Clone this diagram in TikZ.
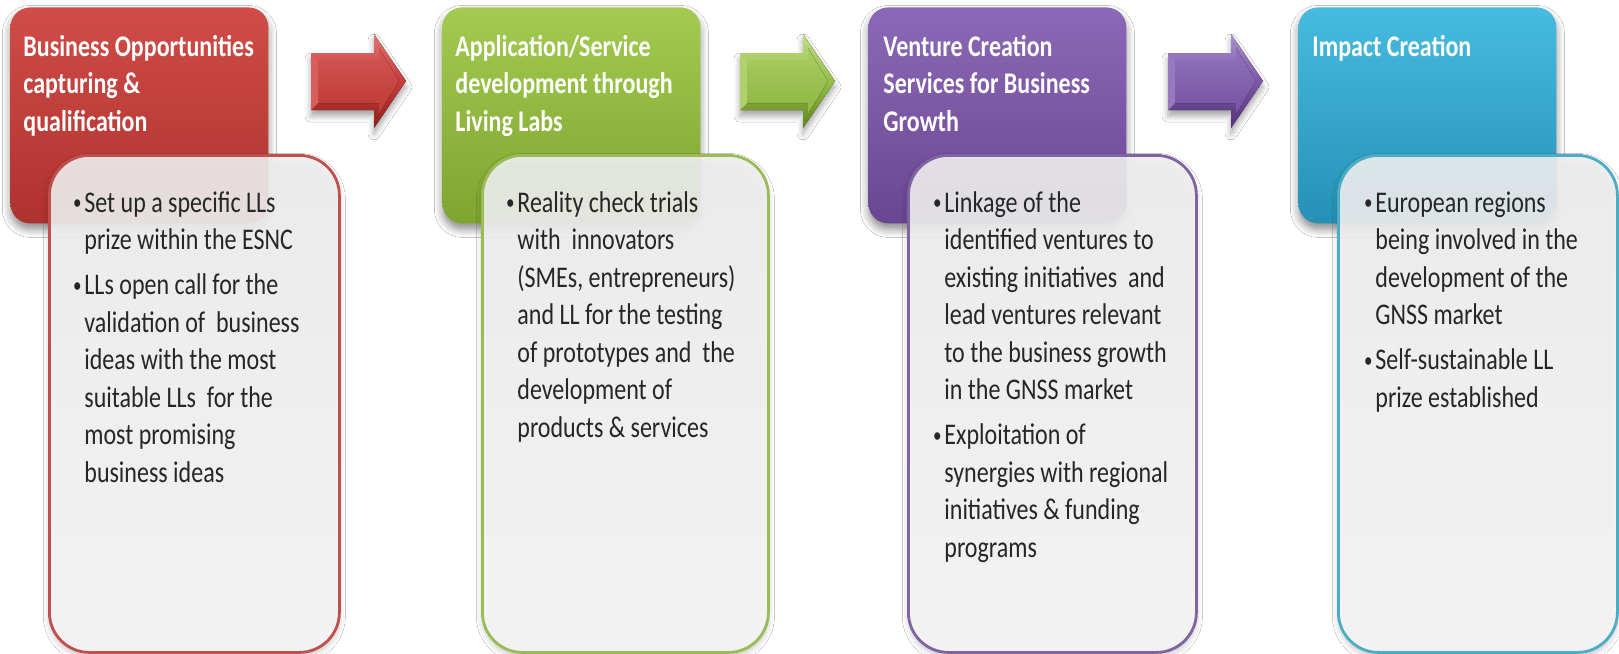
\documentclass[tikz,border=0pt]{standalone}
\usepackage{fontspec}
\setmainfont{Carlito}
\usepackage{graphicx}
\usetikzlibrary{shadows.blur}
\definecolor{rL}{HTML}{D04C48}\definecolor{rD}{HTML}{AE322E}\definecolor{rB}{HTML}{C0504D}
\definecolor{rHi}{HTML}{E27470}\definecolor{rM}{HTML}{C63E3A}\definecolor{rLo}{HTML}{8E201D}
\definecolor{gL}{HTML}{A3CB50}\definecolor{gD}{HTML}{7DA530}\definecolor{gB}{HTML}{9BBB59}
\definecolor{gHi}{HTML}{C2DE88}\definecolor{gM}{HTML}{95BF46}\definecolor{gLo}{HTML}{5F8420}
\definecolor{pL}{HTML}{8C69B6}\definecolor{pD}{HTML}{6A4592}\definecolor{pB}{HTML}{8064A2}
\definecolor{pHi}{HTML}{A890CC}\definecolor{pM}{HTML}{7D58AA}\definecolor{pLo}{HTML}{523378}
\definecolor{cL}{HTML}{47BCE0}\definecolor{cD}{HTML}{2590B5}\definecolor{cB}{HTML}{4BACC6}
\newcommand{\vsc}[1]{\scalebox{1}[1.25]{#1}}
\newcommand{\blt}{\makebox[6pt][l]{\hspace{0.3pt}\raisebox{0.9pt}{\fontsize{8.5}{8.5}\selectfont\textbullet}}}
\newcommand{\blockarrow}[5]{% name, x, highlight, mid, lowlight
  \begin{scope}[shift={(#2,0)}]
    \coordinate (#1) at (0,81);
    \fill[top color=#3, bottom color=#5, middle color=#4,
      blur shadow={shadow xshift=0pt, shadow yshift=-3pt, shadow blur radius=3pt, shadow opacity=35}]
      (0,53) -- (63,53) -- (63,34) -- (95,81) -- (63,128) -- (63,110) -- (0,110) -- cycle;
    \fill[#3!60!#4] (0,53) -- (7,60) -- (7,103) -- (0,110) -- cycle;
    \fill[top color=#3!45!#4, bottom color=#4!85!#5]
      (7,60) -- (68,60) -- (68,48) -- (88,81) -- (68,114) -- (68,103) -- (7,103) -- cycle;
  \end{scope}}
\tikzset{
  hdr/.style={rectangle, rounded corners=10pt, minimum width=129pt, minimum height=108pt,
    anchor=north west, inner sep=0pt,
    blur shadow={shadow xshift=0pt, shadow yshift=-3pt, shadow blur radius=4pt, shadow opacity=45}},
  bodybox/.style={rectangle, rounded corners=20pt, minimum height=248.5pt, anchor=north west,
    inner sep=0pt, line width=1.4pt, top color=black!6, bottom color=black!3, fill opacity=0.9,
    blur shadow={shadow xshift=0pt, shadow yshift=-2pt, shadow blur radius=3pt, shadow opacity=25}},
  ttl/.style={anchor=base west, inner sep=0pt, text=white, font=\fontsize{12}{15}\selectfont\bfseries},
  txt/.style={anchor=base west, inner sep=0pt, text=black!85, font=\fontsize{12}{15}\selectfont},
}
\begin{document}
\begin{tikzpicture}[x=0.5pt,y=-0.5pt]
\useasboundingbox (0,0) rectangle (1619,654);
\fill[white] (0,0) rectangle (1619,654);
% headers
\node[hdr, top color=rL, bottom color=rD] (h1) at (10,7) {};
\node[hdr, top color=gL, bottom color=gD] (h2) at (442,7) {};
\node[hdr, top color=pL, bottom color=pD] (h3) at (868,7) {};
\node[hdr, top color=cL, bottom color=cD] (h4) at (1298,7) {};
% bodies
\node[bodybox, draw=rB, minimum width=145pt] (b1) at (48,154) {};
\node[bodybox, draw=gB, minimum width=143pt] (b2) at (481,154) {};
\node[bodybox, draw=pB, minimum width=144pt] (b3) at (907,154) {};
\node[bodybox, draw=cB, minimum width=139.5pt] (b4) at (1337,154) {};
% arrows
\blockarrow{a1}{311}{rHi}{rM}{rLo}
\blockarrow{a2}{740}{gHi}{gM}{gLo}
\blockarrow{a3}{1168}{pHi}{pM}{pLo}
% titles
\node[ttl] (t1) at (23,56) {\vsc{\begin{tabular}[t]{@{}l@{}}Business Opportunities\\capturing \&\\qualification\end{tabular}}};
\node[ttl] (t2) at (455,56) {\vsc{\begin{tabular}[t]{@{}l@{}}Application/Service\\development through\\Living Labs\end{tabular}}};
\node[ttl] (t3) at (883,56) {\vsc{\begin{tabular}[t]{@{}l@{}}Venture Creation\\Services for Business\\Growth\end{tabular}}};
\node[ttl] (t4) at (1312,56) {\vsc{\begin{tabular}[t]{@{}l@{}}Impact Creation\end{tabular}}};
% body texts
\node[txt] (x1) at (72,212) {\vsc{\begin{tabular}[t]{@{}l@{}l@{}}
\blt&Set up a specific LLs\\&prize within the ESNC\\[3pt]
\blt&LLs open call for the\\&validation of~ business\\&ideas with the most\\&suitable LLs~ for the\\&most promising\\&business ideas
\end{tabular}}};
\node[txt] (x2) at (505,212) {\vsc{\begin{tabular}[t]{@{}l@{}l@{}}
\blt&Reality check trials\\&with~ innovators\\&(SMEs, entrepreneurs)\\&and LL for the testing\\&of prototypes and~ the\\&development of\\&products \& services
\end{tabular}}};
\node[txt] (x3) at (932,212) {\vsc{\begin{tabular}[t]{@{}l@{}l@{}}
\blt&Linkage of the\\&identified ventures to\\&existing initiatives~ and\\&lead ventures relevant\\&to the business growth\\&in the GNSS market\\[3pt]
\blt&Exploitation of\\&synergies with regional\\&initiatives \& funding\\&programs
\end{tabular}}};
\node[txt] (x4) at (1363,212) {\vsc{\begin{tabular}[t]{@{}l@{}l@{}}
\blt&European regions\\&being involved in the\\&development of the\\&GNSS market\\[3pt]
\blt&Self-sustainable LL\\&prize established
\end{tabular}}};
\end{tikzpicture}
\end{document}
